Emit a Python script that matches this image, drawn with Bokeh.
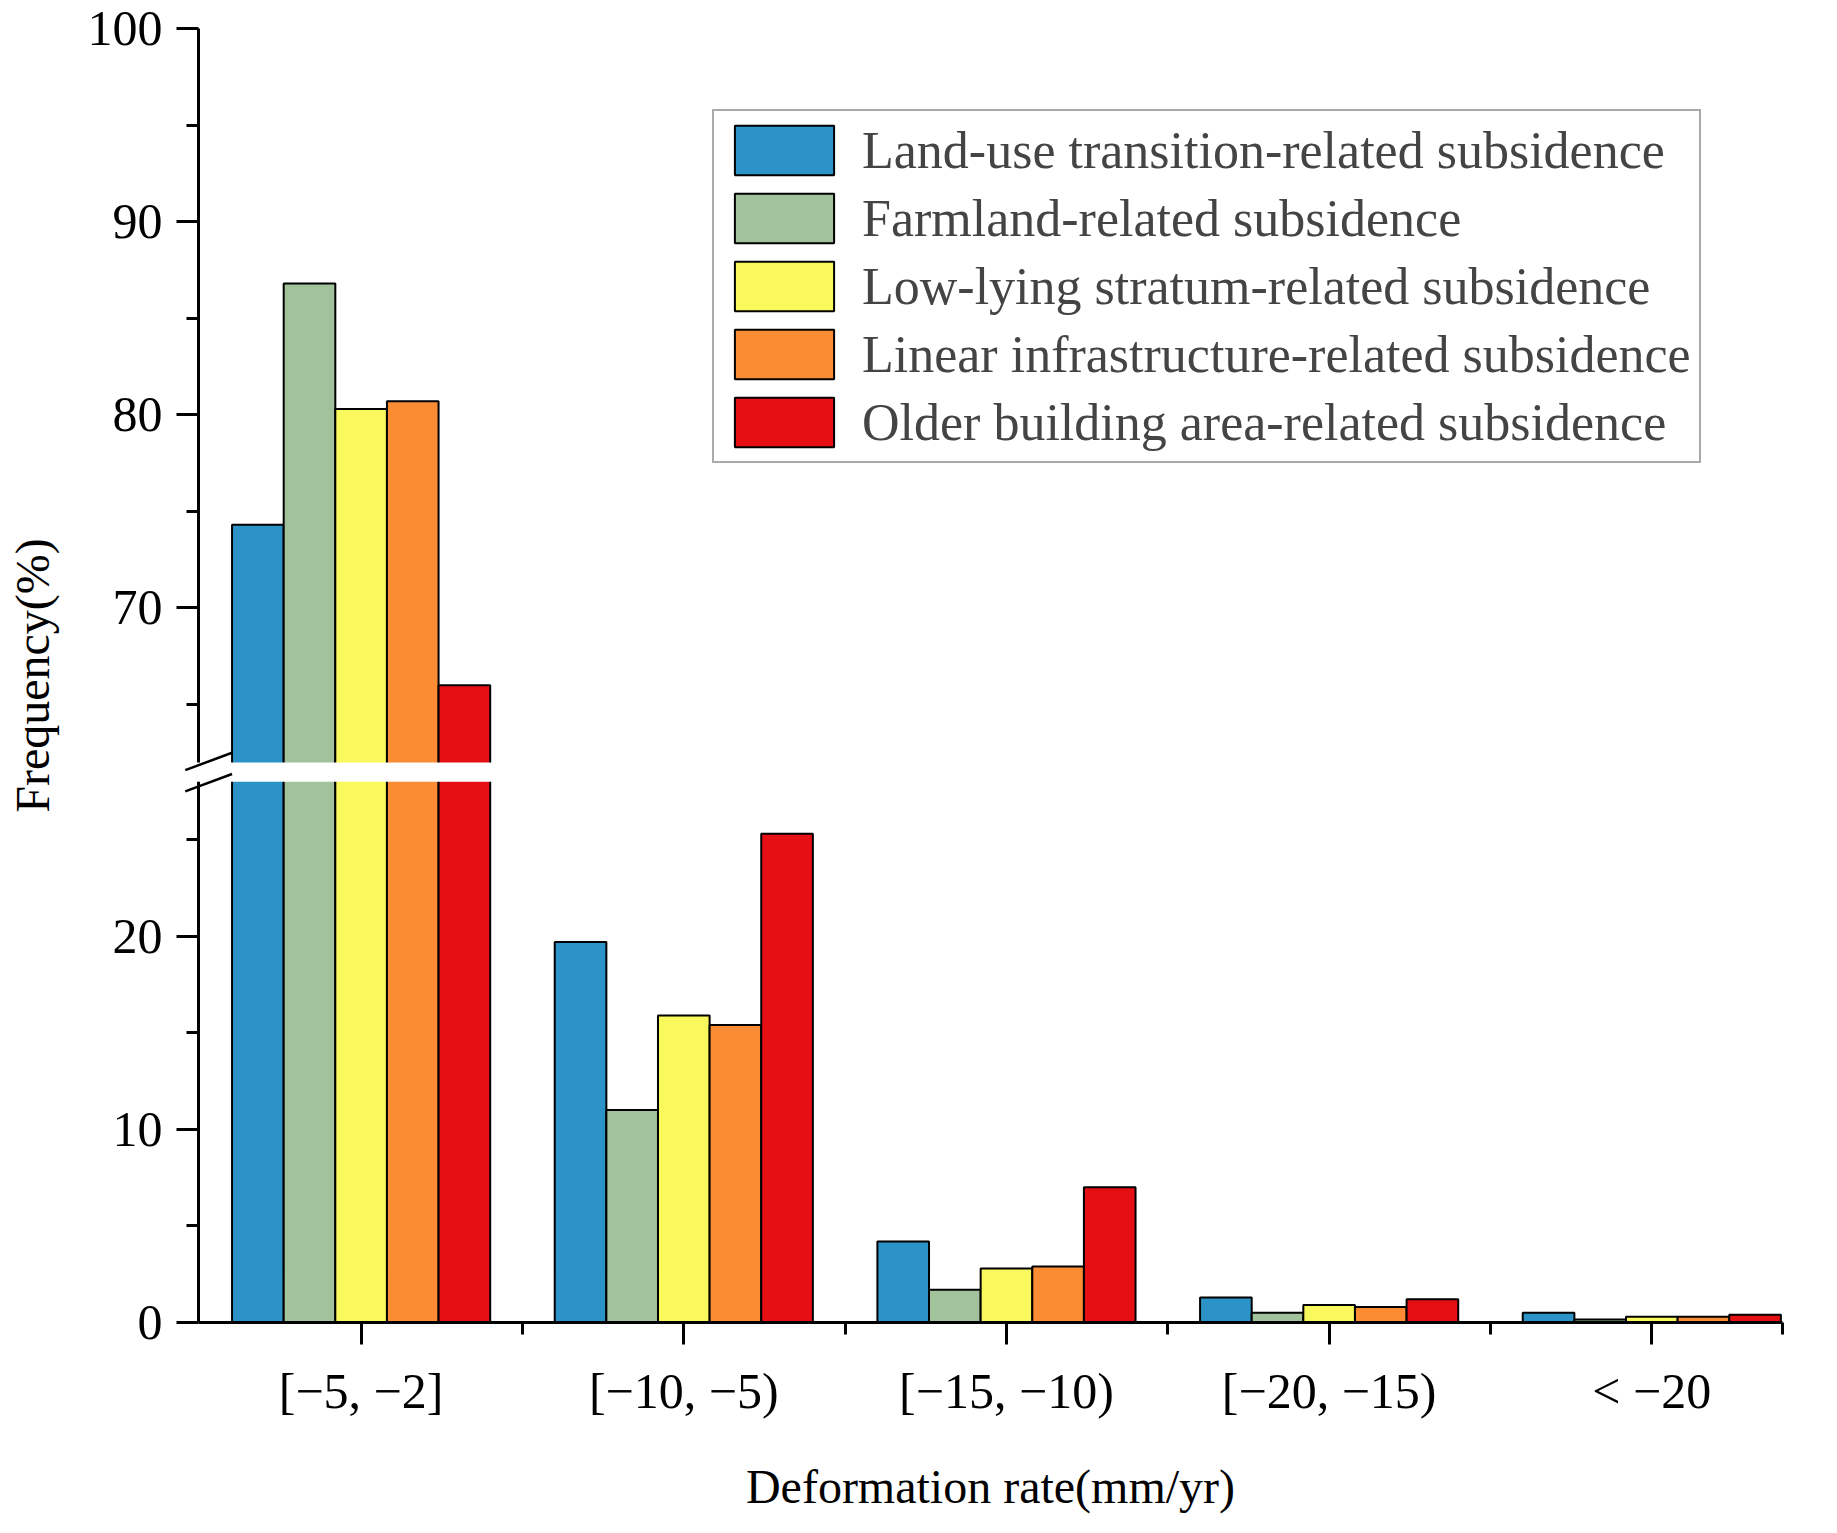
from bokeh.plotting import figure
from bokeh.models import FixedTicker, Legend, LegendItem, ColumnDataSource
from bokeh.embed import file_html
from bokeh.resources import INLINE

categories = ["[\u22125, \u22122]", "[\u221210, \u22125)", "[\u221215, \u221210)", "[\u221220, \u221215)", "< \u221220"]
series = ["Land-use transition-related subsidence", "Farmland-related subsidence",
          "Low-lying stratum-related subsidence", "Linear infrastructure-related subsidence",
          "Older building area-related subsidence"]
land_use = [74.3, 19.7, 4.2, 1.3, 0.5]
farmland = [86.8, 11.0, 1.7, 0.5, 0.15]
low_lying = [80.3, 15.9, 2.8, 0.9, 0.3]
linear_infra = [80.7, 15.4, 2.9, 0.8, 0.3]
older_building = [66.0, 25.3, 7.0, 1.2, 0.4]
colors = ["#2b93c8", "#a1c29a", "#f9f95d", "#fb8c33", "#e61014"]

LOW_TOP, GAP, UP_BOT = 28.0, 1.0, 62.0
OFF = UP_BOT - (LOW_TOP + GAP)

def tr(v):
    return v if v <= LOW_TOP else v - OFF

FONT = "Liberation Serif"
p = figure(width=1820, height=1515, output_backend="svg", toolbar_location=None,
           x_range=(-0.504, 4.405), y_range=(0, tr(100)),
           min_border_left=198, min_border_top=28, min_border_bottom=183, min_border_right=38)
p.grid.visible = False
p.outline_line_color = None
p.background_fill_color = "white"

items = []
width = 0.16
for i, (name, vals) in enumerate(zip(series, [land_use, farmland, low_lying, linear_infra, older_building])):
    xs = [j + (i - 2) * width for j in range(len(categories))]
    src = ColumnDataSource(dict(x=xs, top=[tr(v) for v in vals]))
    r = p.vbar(x="x", top="top", width=width, bottom=0, source=src, fill_color=colors[i],
               line_color="black", line_width=2)
    items.append(LegendItem(label=name, renderers=[r]))

# axis break band
p.quad(left=-0.515, right=0.45, bottom=LOW_TOP, top=LOW_TOP + GAP, fill_color="white",
       line_color=None, level="overlay")
p.segment(x0=[-0.545, -0.545], y0=[LOW_TOP - 0.5, LOW_TOP + 0.6], x1=[-0.4, -0.4],
          y1=[LOW_TOP + 0.4, LOW_TOP + 1.5], line_color="black", line_width=2.5, level="overlay")

yt = [0, 10, 20] + [tr(v) for v in (70, 80, 90, 100)]
p.yaxis.ticker = FixedTicker(ticks=yt, minor_ticks=[5, 15, 25] + [tr(v) for v in (65, 75, 85, 95)])
p.yaxis.major_label_overrides = {tr(v): str(v) for v in (70, 80, 90, 100)}
p.yaxis.major_label_overrides.update({0: "0", 10: "10", 20: "20"})
p.xaxis.ticker = FixedTicker(ticks=[0, 1, 2, 3, 4], minor_ticks=[0.5, 1.5, 2.5, 3.5, 4.405])
p.xaxis.major_label_overrides = {i: c for i, c in enumerate(categories)}

for ax in (p.xaxis, p.yaxis):
    ax.axis_line_width = 3
    ax.major_tick_line_width = 3
    ax.minor_tick_line_width = 3
    ax.major_tick_out = 22
    ax.major_tick_in = 0
    ax.minor_tick_out = 12
    ax.minor_tick_in = 0
    ax.major_label_text_font = FONT
    ax.major_label_text_font_size = "50px"
    ax.major_label_text_color = "black"
    ax.axis_label_text_font = FONT
    ax.axis_label_text_font_size = "48px"
    ax.axis_label_text_font_style = "normal"
    ax.axis_label_text_color = "black"
p.xaxis.axis_label = "Deformation rate(mm/yr)"
p.yaxis.axis_label = "Frequency(%)"
p.xaxis.major_label_standoff = 18
p.xaxis.axis_label_standoff = 38
p.yaxis.major_label_standoff = 14
p.yaxis.axis_label_standoff = 26

legend = Legend(items=items, location=(514, 859), glyph_width=124, glyph_height=62,
                label_text_font=FONT, label_text_font_size="52px", label_height=62,
                spacing=6, padding=8, margin=0, border_line_color="#555555",
                border_line_width=2, label_standoff=16)
p.add_layout(legend, "center")

open("out.html", "w").write(file_html(p, INLINE))
